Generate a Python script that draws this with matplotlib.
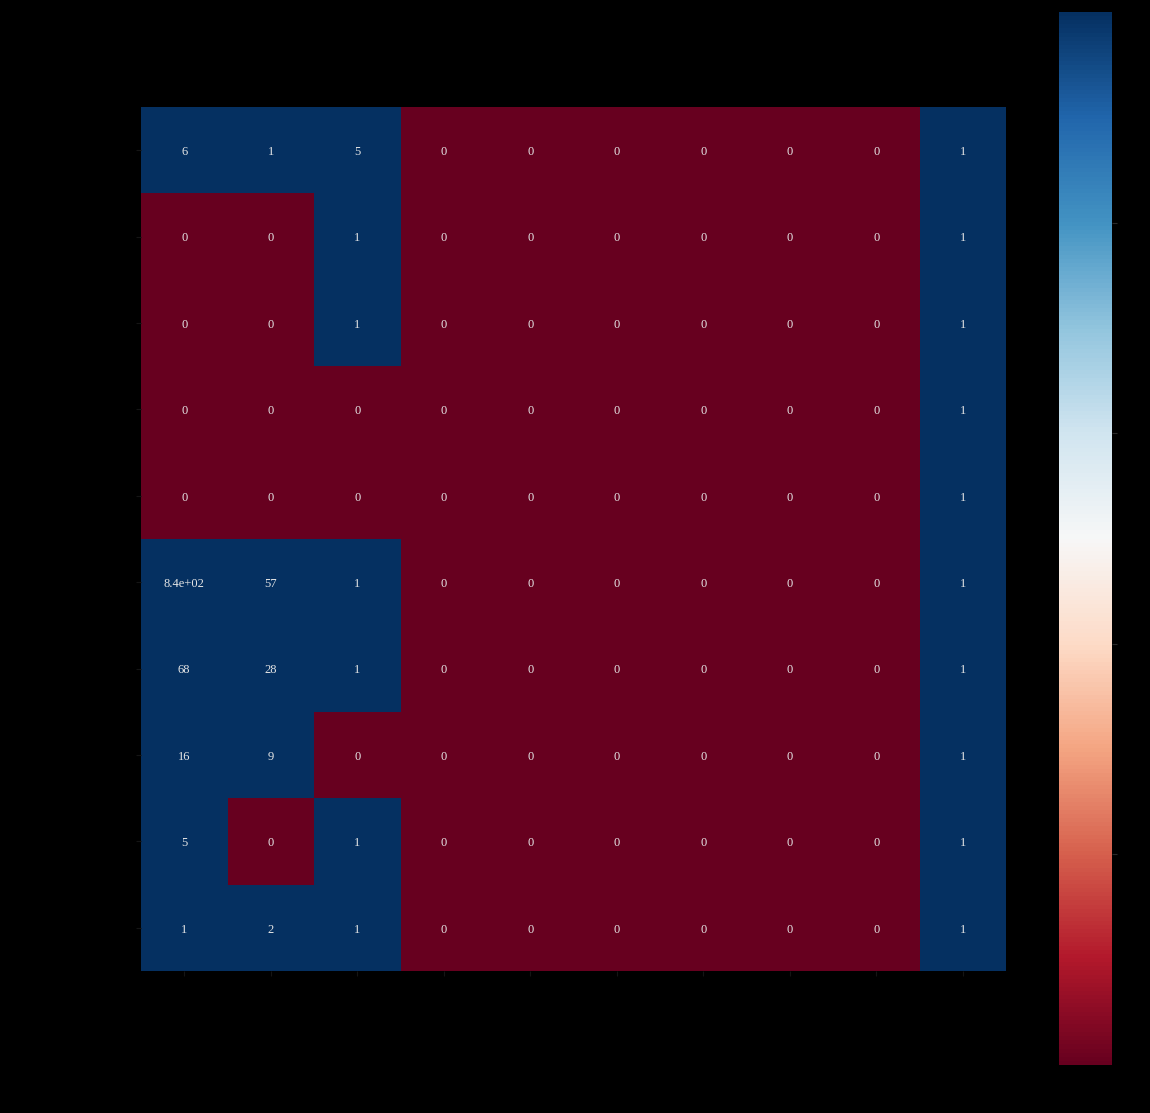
import matplotlib
matplotlib.use("Agg")
import matplotlib.pyplot as plt
import numpy as np
import seaborn as sns

row_0 = [6, 1, 5, 0, 0, 0, 0, 0, 0, 1]
row_1 = [0, 0, 1, 0, 0, 0, 0, 0, 0, 1]
row_2 = [0, 0, 1, 0, 0, 0, 0, 0, 0, 1]
row_3 = [0, 0, 0, 0, 0, 0, 0, 0, 0, 1]
row_4 = [0, 0, 0, 0, 0, 0, 0, 0, 0, 1]
row_5 = [840, 57, 1, 0, 0, 0, 0, 0, 0, 1]
row_6 = [68, 28, 1, 0, 0, 0, 0, 0, 0, 1]
row_7 = [16, 9, 0, 0, 0, 0, 0, 0, 0, 1]
row_8 = [5, 0, 1, 0, 0, 0, 0, 0, 0, 1]
row_9 = [1, 2, 1, 0, 0, 0, 0, 0, 0, 1]

data = np.array([row_0, row_1, row_2, row_3, row_4,
                 row_5, row_6, row_7, row_8, row_9])

fig = plt.figure(figsize=(11.5, 11.13), dpi=100, facecolor="black")
W, H = 1150, 1113
ax = fig.add_axes([141 / W, (H - 971) / H, 865 / W, 864 / H])
cax = fig.add_axes([1059 / W, (H - 1065) / H, 53 / W, 1053 / H])

sns.heatmap(data, ax=ax, cbar_ax=cax, cmap="RdBu", vmin=0, vmax=1,
            annot=True, fmt=".2g",
            annot_kws={"fontsize": 9, "color": "#e6e6e6",
                       "family": "Liberation Serif"})

# nudge annotations a touch lower, like the original
for t in ax.texts:
    x, y = t.get_position()
    t.set_position((x, y + 0.02))

# everything else is black on black, like the original
ax.tick_params(colors="#151515", labelcolor="black")
cax.tick_params(colors="#2a2a2a", labelcolor="black")
cax.set_yticks([0.2, 0.4, 0.6, 0.8])

fig.savefig("out.png", dpi=100, facecolor="black")
